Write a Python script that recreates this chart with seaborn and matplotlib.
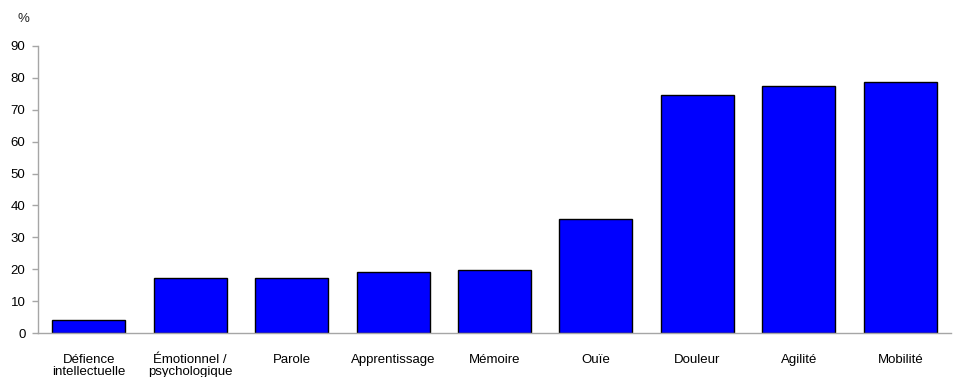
import matplotlib
matplotlib.use("Agg")
import matplotlib.pyplot as plt
import pandas as pd
import seaborn as sns

categories = [
    "Défience\nintellectuelle",
    "Émotionnel /\npsychologique",
    "Parole",
    "Apprentissage",
    "Mémoire",
    "Ouïe",
    "Douleur",
    "Agilité",
    "Mobilité",
]
values = [4.2, 17.2, 17.2, 19.1, 19.9, 35.7, 74.6, 77.3, 78.8]
yticks = [0, 10, 20, 30, 40, 50, 60, 70, 80, 90]

sns.set_theme(style="white")
plt.rcParams["font.family"] = ["Liberation Sans", "DejaVu Sans"]

df = pd.DataFrame({"category": categories, "value": values})

fig = plt.figure(figsize=(9.56, 3.77), dpi=100)
ax = fig.add_axes([38 / 956, 1 - 333 / 377, (951 - 38) / 956, (333 - 46) / 377])
sns.barplot(data=df, x="category", y="value", color="#0000ff", saturation=1,
            edgecolor="black", linewidth=1.0, width=0.72, ax=ax)

ax.set_ylim(0, 90)
ax.set_xlim(-0.5, len(categories) - 0.5)
ax.set_yticks(yticks)
ax.set_xlabel("")
ax.set_ylabel("")
for side in ["top", "right"]:
    ax.spines[side].set_visible(False)
for side in ["left", "bottom"]:
    ax.spines[side].set_color("#a6a6a6")
    ax.spines[side].set_linewidth(1)
ax.tick_params(axis="y", which="both", left=True, length=4, width=1, color="#a6a6a6",
               labelsize=9.5, labelcolor="black", pad=5)
ax.tick_params(axis="x", bottom=False, labelsize=9.5, labelcolor="black", pad=9)
for lbl in ax.get_xticklabels():
    lbl.set_linespacing(1.05)
fig.text(18 / 956, 1 - 19 / 377, "%", fontsize=9.5, ha="left", va="center")
plt.savefig("out.png", dpi=100)
